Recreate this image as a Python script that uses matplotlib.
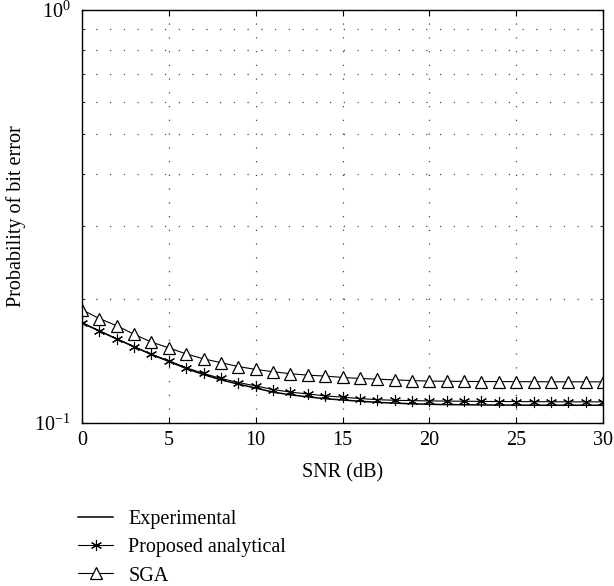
import matplotlib
matplotlib.use("Agg")
import matplotlib.pyplot as plt
import numpy as np
from matplotlib.ticker import LogLocator, NullFormatter, FixedLocator

snr = list(range(0, 31))

experimental = [0.175, 0.167, 0.1598, 0.153, 0.1465, 0.141, 0.1355, 0.131, 0.1272, 0.1242,
                0.1215, 0.1188, 0.1170, 0.1157, 0.1145, 0.1137, 0.1129, 0.1122, 0.1117, 0.1113,
                0.1110, 0.1108, 0.1107, 0.1106, 0.1105, 0.1105, 0.1104, 0.1104, 0.1104, 0.1104, 0.1104]

proposed = [0.1744, 0.1671, 0.1598, 0.1530, 0.1466, 0.1415, 0.1361, 0.1318, 0.1282, 0.1253,
            0.1230, 0.1205, 0.1188, 0.1176, 0.1163, 0.1155, 0.1146, 0.1139, 0.1135, 0.1133,
            0.1131, 0.1130, 0.1129, 0.1128, 0.1127, 0.1127, 0.1126, 0.1126, 0.1125, 0.1125, 0.1125]

sga = [0.188, 0.179, 0.172, 0.164, 0.157, 0.152, 0.147, 0.143, 0.140, 0.137,
       0.1348, 0.1331, 0.1316, 0.1306, 0.1299, 0.1289, 0.1282, 0.1277, 0.1272, 0.1267,
       0.1263, 0.1262, 0.1261, 0.1260, 0.1260, 0.1259, 0.1259, 0.1258, 0.1258, 0.1258, 0.1258]

x_ticks = [0, 5, 10, 15, 20, 25, 30]
labels = ["Experimental", "Proposed analytical", "SGA"]

plt.rcParams['font.family'] = ['Liberation Serif', 'DejaVu Serif']
plt.rcParams['mathtext.fontset'] = 'stix'

fig = plt.figure(figsize=(6.14, 5.86), dpi=100)
ax = fig.add_axes([82/614, 1 - 423/586, 521/614, 413/586])

ax.plot(snr, experimental, color='black', lw=1.1, label=labels[0])
ax.plot(snr, proposed, color='black', lw=0.8, marker=(6, 2, 0), markersize=8,
        markeredgewidth=0.8, label=labels[1])
ax.plot(snr, sga, color='black', lw=0.8, marker='^', markersize=9, markerfacecolor='white',
        markeredgewidth=0.9, label=labels[2])

ax.set_yscale('log')
ax.set_xlim(0, 30)
ax.set_ylim(0.1, 1.0)
ax.xaxis.set_major_locator(FixedLocator(x_ticks))
ax.yaxis.set_major_locator(LogLocator(base=10, numticks=5))
ax.yaxis.set_minor_locator(LogLocator(base=10, subs=np.arange(2, 10), numticks=10))
ax.yaxis.set_minor_formatter(NullFormatter())

ax.grid(True, which='major', linestyle=(0, (1, 10)), color='#444444', lw=0.9)
ax.grid(True, which='minor', axis='y', linestyle=(0, (1, 10)), color='#444444', lw=0.9)

ax.tick_params(which='both', direction='in', top=True, right=True, labelsize=14.5)
ax.tick_params(axis='y', which='major', length=4, pad=8)
ax.tick_params(axis='x', which='major', length=4, pad=6)
ax.tick_params(which='minor', length=2)
for s in ax.spines.values():
    s.set_linewidth(1.0)

ax.set_xlabel("SNR (dB)", fontsize=14.5, labelpad=9)
ax.set_ylabel("Probability of bit error", fontsize=14.5, labelpad=6)

fig.legend(loc='upper left', bbox_to_anchor=(60/614, 1 - 492/586), frameon=False,
           fontsize=14.5, handlelength=1.75, labelspacing=0.45, handletextpad=0.75)

fig.savefig("out.png", dpi=100)
